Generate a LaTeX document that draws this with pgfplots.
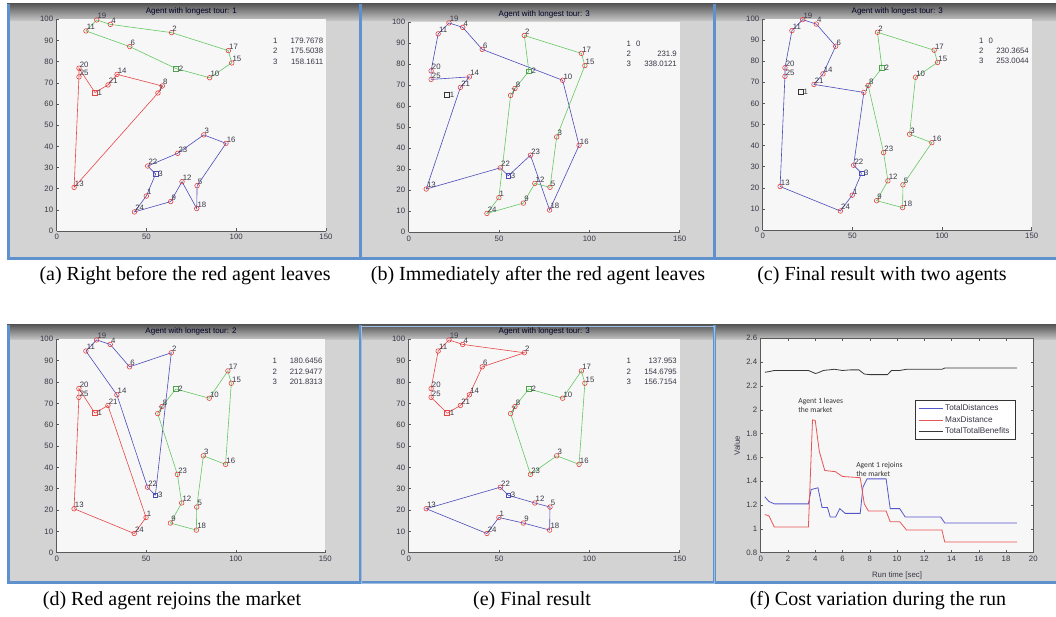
\documentclass[border=0pt]{standalone}
\usepackage{pgfplots}
\pgfplotsset{compat=1.18}
\usepackage{pgfplotstable}
\usepackage{fontspec}
\setmainfont{Liberation Serif}
\newfontfamily\hv{Liberation Sans}
\newfontfamily\carl{Carlito}

\definecolor{panelgray}{RGB}{211,211,211}
\definecolor{winblue}{RGB}{95,145,205}
\definecolor{tourred}{RGB}{232,70,70}
\definecolor{tourgreen}{RGB}{100,200,100}
\definecolor{tourblue}{RGB}{75,75,185}
\definecolor{cityred}{RGB}{228,55,55}
\definecolor{labgray}{RGB}{55,55,70}
\definecolor{fblue}{RGB}{85,85,205}
\definecolor{fred}{RGB}{230,85,85}
\definecolor{fblack}{RGB}{55,55,55}

\pgfplotstableread{
x y label
22.3 99.7 19
29.9 97.6 4
16.3 94.5 11
64.0 93.7 2
40.7 87.1 6
95.6 85.2 17
97.5 79.4 15
85.2 72.4 10
12.4 76.9 20
12.4 72.8 25
33.6 74.0 14
28.6 69.0 21
58.8 68.5 8
56.4 65.2 7
9.7 20.6 13
81.9 45.4 3
94.3 41.4 16
67.4 36.7 23
50.7 30.7 22
69.8 23.3 12
78.2 21.4 5
49.9 16.5 1
63.5 13.9 9
43.3 9.0 24
78.0 10.6 18
}\cities

\newcommand\smallfont{\hv\fontsize{7.8}{9}\selectfont}

\pgfplotsset{
  mapaxis/.style={
    scale only axis, anchor=south west,
    xmin=0,xmax=150,ymin=0,ymax=100,
    xtick={0,50,100,150}, ytick={0,10,20,30,40,50,60,70,80,90,100},
    axis lines*=left, axis line style={-,draw=black!65,line width=0.6pt},
    tick align=inside, major tick length=2.5pt, tick style={draw=black!65,line width=0.5pt},
    ticklabel style={font=\smallfont, text=labgray},
    /pgf/number format/assume math mode=true,
    axis background/.style={fill=white!97!black},
    clip=false,
  },
  tour/.style={line width=0.6pt, mark=none},
  cityplot/.style={only marks, mark=o, mark size=2.3pt, color=cityred, line width=0.55pt,
    nodes near coords, point meta=explicit symbolic,
    nodes near coords style={anchor=south west, inner sep=0pt, xshift=0.6pt, yshift=0.8pt, font=\smallfont, text=labgray}},
  depotplot/.style={only marks, mark=square, mark size=2.4pt, line width=0.6pt,
    nodes near coords={#1},
    nodes near coords style={anchor=west, xshift=2.4pt, inner sep=0pt, font=\smallfont, text=labgray}},
}

\newcommand\maptitle[1]{%
  \node[anchor=base, inner sep=0pt, font=\hv\fontsize{8}{9}\selectfont, text=black!85!blue] at (rel axis cs:0.5,1) [yshift=5.5pt] {#1};
}
\newcommand\costs[3]{%
  \node[anchor=west, inner sep=0pt, font=\smallfont, text=labgray] at (axis cs:120.5,89.8) {1};
  \node[anchor=west, inner sep=0pt, font=\smallfont, text=labgray] at (axis cs:120.5,84.9) {2};
  \node[anchor=west, inner sep=0pt, font=\smallfont, text=labgray] at (axis cs:120.5,80.0) {3};
  \node[anchor=east, inner sep=0pt, font=\smallfont, text=labgray] at (axis cs:148.5,89.8) {#1};
  \node[anchor=east, inner sep=0pt, font=\smallfont, text=labgray] at (axis cs:148.5,84.9) {#2};
  \node[anchor=east, inner sep=0pt, font=\smallfont, text=labgray] at (axis cs:148.5,80.0) {#3};
}
\newcommand\costsz[2]{%
  \node[anchor=west, inner sep=0pt, font=\smallfont, text=labgray] at (axis cs:120.5,89.8) {1};
  \node[anchor=west, inner sep=0pt, font=\smallfont, text=labgray] at (axis cs:125.8,89.8) {0};
  \node[anchor=west, inner sep=0pt, font=\smallfont, text=labgray] at (axis cs:120.5,84.9) {2};
  \node[anchor=west, inner sep=0pt, font=\smallfont, text=labgray] at (axis cs:120.5,80.0) {3};
  \node[anchor=east, inner sep=0pt, font=\smallfont, text=labgray] at (axis cs:148.5,84.9) {#1};
  \node[anchor=east, inner sep=0pt, font=\smallfont, text=labgray] at (axis cs:148.5,80.0) {#2};
}

\begin{document}
\begin{tikzpicture}[x=1pt,y=1pt]
\useasboundingbox (0,0) rectangle (1056,616);
\fill[white] (0,0) rectangle (1056,616);
% ---------- row 1 windows
\fill[panelgray] (7,356) rectangle (1056,612);
\shade[top color=black!65, bottom color=panelgray!95!black] (7,595) rectangle (1056,612);
\fill[winblue] (7,356) rectangle (10,612);
\fill[winblue] (359,356) rectangle (362,612);
\fill[winblue] (713,356) rectangle (716,612);
\fill[winblue] (7,356) rectangle (1056,359);
% ---------- row 2 windows
\fill[panelgray] (7,32) rectangle (1056,291);
\shade[top color=black!65, bottom color=panelgray!95!black] (7,276) rectangle (1056,291);
\fill[winblue] (7,32) rectangle (10,291);
\fill[winblue] (359,32) rectangle (362,291);
\fill[winblue] (713,32) rectangle (716,291);
\fill[winblue] (7,32) rectangle (1056,35);
\draw[winblue!60, line width=0.8pt] (361,33) rectangle (714,290);
% ---------- captions
\begin{scope}[every node/.style={font=\fontsize{20}{24}\selectfont, inner sep=0pt}]
\node at (185,340) {(a) Right before the red agent leaves};
\node at (538,340) {(b) Immediately after the red agent leaves};
\node at (882,340) {(c) Final result with two agents};
\node at (172,15) {(d) Red agent rejoins the market};
\node at (532,15) {(e) Final result};
\node at (878,15) {(f) Cost variation during the run};
\end{scope}

% ================= (a)
\begin{axis}[mapaxis, at={(56.7pt,385pt)}, width=269.3pt, height=211.7pt]
\addplot[tour, tourred] coordinates {(21.3,65.4) (12.4,76.9) (12.4,72.8) (9.7,20.6) (56.4,65.2) (58.8,68.5) (33.6,74.0) (28.6,69.0) (21.3,65.4)};
\addplot[tour, tourgreen] coordinates {(66.5,76.7) (85.2,72.4) (97.5,79.4) (95.6,85.2) (64.0,93.7) (29.9,97.6) (22.3,99.7) (16.3,94.5) (40.7,87.1) (66.5,76.7)};
\addplot[tour, tourblue] coordinates {(55.1,26.9) (50.7,30.7) (67.4,36.7) (81.9,45.4) (94.3,41.4) (78.2,21.4) (78.0,10.6) (69.8,23.3) (63.5,13.9) (43.3,9.0) (49.9,16.5) (55.1,26.9)};
\addplot[cityplot] table[x=x,y=y,meta=label]{\cities};
\addplot[depotplot=1, color=tourred] coordinates {(21.3,65.4)};
\addplot[depotplot=2, color=tourgreen!80!black] coordinates {(66.5,76.7)};
\addplot[depotplot=3, color=tourblue] coordinates {(55.1,26.9)};
\costs{179.7678}{175.5038}{158.1611}
\maptitle{Agent with longest tour: 1}
\end{axis}

% ================= (b)
\begin{axis}[mapaxis, at={(408.7pt,383.7pt)}, width=271pt, height=210pt]
\addplot[tour, tourblue] coordinates {(55.1,26.9) (67.4,36.7) (78.0,10.6) (94.3,41.4) (85.2,72.4) (40.7,87.1) (29.9,97.6) (22.3,99.7) (16.3,94.5) (12.4,76.9) (12.4,72.8) (33.6,74.0) (28.6,69.0) (9.7,20.6) (50.7,30.7) (55.1,26.9)};
\addplot[tour, tourgreen] coordinates {(66.5,76.7) (64.0,93.7) (95.6,85.2) (97.5,79.4) (81.9,45.4) (78.2,21.4) (69.8,23.3) (63.5,13.9) (43.3,9.0) (49.9,16.5) (56.4,65.2) (58.8,68.5) (66.5,76.7)};
\addplot[cityplot] table[x=x,y=y,meta=label]{\cities};
\addplot[depotplot=1, color=black!80] coordinates {(21.3,65.4)};
\addplot[depotplot=2, color=tourgreen!80!black] coordinates {(66.5,76.7)};
\addplot[depotplot=3, color=tourblue] coordinates {(55.1,26.9)};
\costsz{231.9}{338.0121}
\maptitle{Agent with longest tour: 3}
\end{axis}

% ================= (c)
\begin{axis}[mapaxis, at={(762.7pt,386pt)}, width=269pt, height=211pt]
\addplot[tour, tourblue] coordinates {(55.1,26.9) (49.9,16.5) (43.3,9.0) (9.7,20.6) (12.4,72.8) (12.4,76.9) (16.3,94.5) (22.3,99.7) (29.9,97.6) (40.7,87.1) (33.6,74.0) (28.6,69.0) (56.4,65.2) (50.7,30.7) (55.1,26.9)};
\addplot[tour, tourgreen] coordinates {(66.5,76.7) (64.0,93.7) (95.6,85.2) (97.5,79.4) (85.2,72.4) (81.9,45.4) (94.3,41.4) (78.2,21.4) (78.0,10.6) (63.5,13.9) (69.8,23.3) (67.4,36.7) (58.8,68.5) (66.5,76.7)};
\addplot[cityplot] table[x=x,y=y,meta=label]{\cities};
\addplot[depotplot=1, color=black!80] coordinates {(21.3,65.4)};
\addplot[depotplot=2, color=tourgreen!80!black] coordinates {(66.5,76.7)};
\addplot[depotplot=3, color=tourblue] coordinates {(55.1,26.9)};
\costsz{230.3654}{253.0044}
\maptitle{Agent with longest tour: 3}
\end{axis}

% ================= (d)
\begin{axis}[mapaxis, at={(56.7pt,63.3pt)}, width=268.6pt, height=213.4pt]
\addplot[tour, tourred] coordinates {(21.3,65.4) (28.6,69.0) (49.9,16.5) (43.3,9.0) (9.7,20.6) (12.4,72.8) (12.4,76.9) (21.3,65.4)};
\addplot[tour, tourblue] coordinates {(55.1,26.9) (64.0,93.7) (40.7,87.1) (29.9,97.6) (22.3,99.7) (16.3,94.5) (33.6,74.0) (50.7,30.7) (55.1,26.9)};
\addplot[tour, tourgreen] coordinates {(66.5,76.7) (85.2,72.4) (95.6,85.2) (97.5,79.4) (94.3,41.4) (81.9,45.4) (78.2,21.4) (78.0,10.6) (63.5,13.9) (69.8,23.3) (67.4,36.7) (56.4,65.2) (58.8,68.5) (66.5,76.7)};
\addplot[cityplot] table[x=x,y=y,meta=label]{\cities};
\addplot[depotplot=1, color=tourred] coordinates {(21.3,65.4)};
\addplot[depotplot=2, color=tourgreen!80!black] coordinates {(66.5,76.7)};
\addplot[depotplot=3, color=tourblue] coordinates {(55.1,26.9)};
\costs{180.6456}{212.9477}{201.8313}
\maptitle{Agent with longest tour: 2}
\end{axis}

% ================= (e)
\begin{axis}[mapaxis, at={(408.7pt,63.3pt)}, width=271pt, height=213.4pt]
\addplot[tour, tourred] coordinates {(21.3,65.4) (12.4,72.8) (12.4,76.9) (16.3,94.5) (22.3,99.7) (29.9,97.6) (64.0,93.7) (40.7,87.1) (33.6,74.0) (28.6,69.0) (21.3,65.4)};
\addplot[tour, tourgreen] coordinates {(66.5,76.7) (85.2,72.4) (95.6,85.2) (97.5,79.4) (94.3,41.4) (81.9,45.4) (67.4,36.7) (56.4,65.2) (58.8,68.5) (66.5,76.7)};
\addplot[tour, tourblue] coordinates {(55.1,26.9) (50.7,30.7) (9.7,20.6) (43.3,9.0) (49.9,16.5) (63.5,13.9) (78.0,10.6) (78.2,21.4) (69.8,23.3) (55.1,26.9)};
\addplot[cityplot] table[x=x,y=y,meta=label]{\cities};
\addplot[depotplot=1, color=tourred] coordinates {(21.3,65.4)};
\addplot[depotplot=2, color=tourgreen!80!black] coordinates {(66.5,76.7)};
\addplot[depotplot=3, color=tourblue] coordinates {(55.1,26.9)};
\costs{137.953}{154.6795}{156.7154}
\maptitle{Agent with longest tour: 3}
\end{axis}

% ================= (f)
\begin{axis}[scale only axis, anchor=south west, at={(760.7pt,63.3pt)}, width=272.6pt, height=214.4pt,
  xmin=0,xmax=20,ymin=0.8,ymax=2.6,
  xtick={0,2,4,6,8,10,12,14,16,18,20}, ytick={0.8,1,1.2,1.4,1.6,1.8,2,2.2,2.4,2.6},
  tick pos=both, ticklabel pos=left,
  tick align=inside, major tick length=2.5pt, tick style={draw=black!65,line width=0.5pt},
  axis line style={draw=black!65,line width=0.6pt},
  ticklabel style={font=\smallfont, text=labgray},
  /pgf/number format/assume math mode=true,
  axis background/.style={fill=white!97!black},
  xlabel={Run time [sec]}, ylabel={Value},
  label style={font=\smallfont, text=labgray},
  xlabel style={at={(axis description cs:0.5,-0.108)}, anchor=center},
  ylabel style={at={(axis description cs:-0.087,0.5)}, anchor=center},
  legend style={at={(axis cs:11.3,2.08)}, anchor=north west, font=\hv\fontsize{8.2}{9.8}\selectfont, draw=black!80, fill=white, inner xsep=3.5pt, inner ysep=2.5pt, row sep=-0.2pt, cells={anchor=west, text=labgray}},
  legend image code/.code={\draw[#1] (0pt,0pt) -- (24pt,0pt);},
]
\addplot[fblue, line width=0.8pt] coordinates {(0.3,1.27) (0.6,1.23) (1.0,1.21) (3.5,1.21) (3.7,1.33) (4.2,1.345) (4.5,1.18) (4.9,1.18) (5.1,1.10) (5.5,1.10) (5.8,1.17) (6.2,1.13) (7.3,1.13) (7.5,1.35) (7.8,1.42) (9.2,1.42) (9.5,1.17) (10.2,1.17) (10.6,1.10) (13.2,1.10) (13.5,1.05) (18.8,1.05)};
\addlegendentry{TotalDistances}
\addplot[fred, line width=0.8pt] coordinates {(0.3,1.12) (0.6,1.11) (1.0,1.015) (3.5,1.015) (3.8,1.915) (4.0,1.91) (4.3,1.65) (4.7,1.49) (5.5,1.48) (5.6,1.47) (6.0,1.44) (7.3,1.43) (7.6,1.21) (7.9,1.15) (9.2,1.15) (9.5,1.06) (10.2,1.06) (10.7,0.99) (13.3,0.99) (13.5,0.89) (18.8,0.89)};
\addlegendentry{MaxDistance}
\addplot[fblack, line width=0.8pt] coordinates {(0.3,2.315) (0.6,2.32) (1.0,2.33) (3.5,2.33) (4.0,2.305) (4.2,2.31) (4.6,2.33) (5.0,2.335) (5.4,2.34) (6.0,2.33) (6.6,2.335) (7.2,2.335) (7.6,2.30) (8.0,2.295) (9.3,2.295) (9.6,2.33) (10.2,2.33) (10.7,2.34) (13.3,2.34) (13.5,2.35) (18.8,2.35)};
\addlegendentry{TotalTotalBenefits}
\node[anchor=north west, inner sep=0pt, align=left, font=\carl\fontsize{7.6}{9}\selectfont, text=black!80] at (axis cs:2.75,2.10) {Agent 1 leaves\\the market};
\node[anchor=north west, inner sep=0pt, align=left, font=\carl\fontsize{7.6}{9}\selectfont, text=black!80] at (axis cs:7.0,1.56) {Agent 1 rejoins\\the market};
\end{axis}
\end{tikzpicture}
\end{document}
